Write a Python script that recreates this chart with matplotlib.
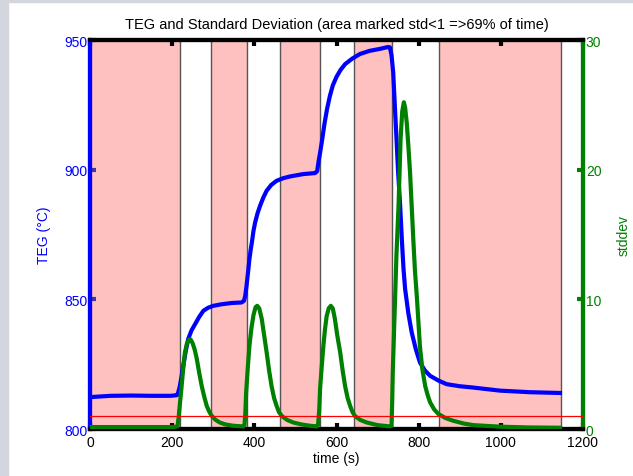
import numpy as np
import matplotlib
matplotlib.use('Agg')
import matplotlib.pyplot as plt
from matplotlib.patches import Rectangle

plt.rcParams['font.family'] = ['Liberation Sans', 'DejaVu Sans']

# TEG curve (time in s, temperature in degC)
teg_t = [0, 50, 100, 150, 195, 210, 213, 218, 222, 227, 233, 239, 247, 256,
         266, 276, 288, 300, 320, 345, 369, 375, 378, 381, 385, 388, 391, 394,
         398, 402, 408, 414, 422, 430, 441, 454, 470, 487, 519, 548, 553, 556,
         560, 565, 571, 577, 584, 591, 600, 610, 621, 638, 657, 680, 706, 725,
         730, 734, 738, 742, 746, 750, 755, 759, 763, 767, 775, 783, 793, 803,
         815, 828, 848, 868, 900, 932, 998, 1070, 1144]
teg_v = [812.3, 812.8, 812.9, 812.8, 812.8, 813.0, 813.2, 816.0, 819.5, 824.4,
         830.0, 834.7, 838.0, 840.5, 843.3, 845.6, 846.8, 847.5, 848.1, 848.6,
         848.8, 849.5, 851.5, 855.2, 861.0, 865.5, 869.0, 872.0, 876.5, 879.7,
         883.3, 886.1, 889.3, 891.9, 894.1, 895.7, 896.7, 897.4, 898.3, 898.7,
         899.5, 902.8, 906.5, 911.5, 918.0, 923.4, 928.5, 932.5, 935.8, 938.5,
         940.7, 942.8, 944.6, 945.8, 946.6, 947.3, 947.2, 944.0, 937.5, 924.7,
         912.0, 899.0, 886.0, 873.3, 862.0, 854.0, 844.5, 837.3, 830.8, 825.7,
         822.6, 820.5, 818.7, 817.3, 816.5, 816.0, 814.8, 814.2, 813.9]

# standard deviation curve
std_t = [0, 100, 200, 213, 216, 219, 223, 227, 231, 236, 241, 245, 250, 255,
         260, 266, 272, 278, 284, 290, 296, 305, 316, 330, 349, 373,
         376, 378, 380, 384, 388, 393, 398, 403, 407, 412, 418, 424, 430, 436,
         442, 448, 454, 460, 467, 480, 495, 515, 536, 552,
         555, 558, 560, 564, 568, 572, 576, 581, 586, 591, 596, 602, 609, 615,
         621, 627, 633, 639, 645, 658, 674, 700, 730,
         734, 735.5, 737, 742, 746, 751, 756, 760, 764, 767, 771, 775, 779,
         783, 787, 791, 796, 803, 809, 816, 822, 828, 838, 848, 865, 884, 910,
         933, 998, 1070, 1144]
std_v = [0.15, 0.15, 0.15, 0.2, 1.0, 2.0, 3.3, 4.7, 5.9, 6.6, 6.9, 6.9, 6.6,
         6.1, 5.4, 4.3, 3.3, 2.5, 1.8, 1.35, 1.03, 0.72, 0.5, 0.35, 0.25, 0.2,
         0.3, 1.2, 2.8, 4.7, 6.4, 7.8, 8.8, 9.4, 9.5, 9.3, 8.5, 7.2, 5.9, 4.5,
         3.3, 2.4, 1.8, 1.3, 1.0, 0.7, 0.5, 0.35, 0.25, 0.2,
         0.3, 1.5, 3.1, 4.8, 6.4, 7.7, 8.7, 9.3, 9.5, 9.3, 8.5, 7.2, 5.9, 4.5,
         3.3, 2.4, 1.8, 1.3, 1.0, 0.7, 0.5, 0.3, 0.2,
         0.25, 2.0, 4.4, 9.5, 13.5, 17.2, 22.4, 24.5, 25.2, 24.8, 23.6, 21.8,
         19.8, 17.2, 14.6, 12.2, 10.0, 6.4, 4.6, 3.3, 2.6, 2.05, 1.5, 1.16,
         0.85, 0.64, 0.42, 0.3, 0.18, 0.12, 0.1]

# areas where std < 1
stable_start = [0, 294, 462, 643, 850]
stable_end = [219, 381, 559, 735, 1146]
std_limit = 1

fig = plt.figure(figsize=(6.33, 4.77), dpi=100)
fig.patches.append(Rectangle((0, 0), 0.012, 1, transform=fig.transFigure,
                             color='#d3d6dd', zorder=0))
fig.patches.append(Rectangle((0, 0.993), 1, 0.007, transform=fig.transFigure,
                             color='#d3d6dd', zorder=0))

ax1 = fig.add_axes([0.1422, 0.0985, 0.7788, 0.8155])
ax2 = ax1.twinx()

for s, e in zip(stable_start, stable_end):
    ax1.axvspan(s, e, color='#ffc0c0', lw=0, zorder=0)
    for x in (s, e):
        if x > 0:
            ax1.axvline(x, color='#555555', lw=1, zorder=1)

ax1.plot(teg_t, teg_v, color='blue', lw=3, zorder=2, solid_joinstyle='round')
ax2.plot(std_t, std_v, color='green', lw=3, zorder=3, solid_joinstyle='round')
ax2.axhline(std_limit, color='red', lw=0.9, zorder=4)

ax1.set_xlim(0, 1200)
ax1.set_ylim(800, 950)
ax2.set_ylim(0, 30)
ax1.set_xticks(range(0, 1201, 200))
ax1.set_yticks([800, 850, 900, 950])
ax2.set_yticks([0, 10, 20, 30])

ax1.set_title('TEG and Standard Deviation (area marked std<1 =>69% of time)',
              fontsize=10.5, pad=9)
ax1.set_xlabel('time (s)', fontsize=10, labelpad=2)
ax1.set_ylabel('TEG (\u00b0C)', color='blue', fontsize=10, labelpad=9)
ax2.set_ylabel('stddev', color='green', fontsize=10, labelpad=11)

ax1.tick_params(axis='x', direction='in', length=4, width=3, top=True,
                labelsize=10, pad=4)
ax1.tick_params(axis='y', direction='in', length=4, width=3, colors='#3a3aa0',
                labelcolor='blue', labelsize=10, pad=2)
ax2.tick_params(axis='y', direction='in', length=4, width=3, colors='green',
                labelsize=10, pad=2)

for ax in (ax1, ax2):
    ax.spines['top'].set_linewidth(3)
    ax.spines['bottom'].set_linewidth(3)
    ax.spines['left'].set_color('blue')
    ax.spines['left'].set_linewidth(3)
    ax.spines['right'].set_color('green')
    ax.spines['right'].set_linewidth(3)

fig.savefig('out.png', dpi=100)
